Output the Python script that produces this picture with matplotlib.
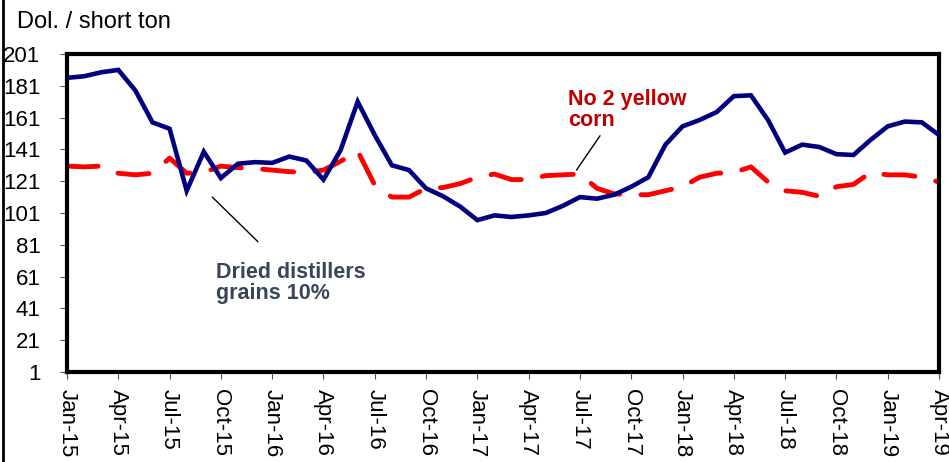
import matplotlib
matplotlib.use("Agg")
import matplotlib.pyplot as plt
from matplotlib.lines import Line2D
import numpy as np

plt.rcParams['font.family'] = ['Liberation Sans', 'DejaVu Sans']

# monthly prices, Jan-15 .. Apr-19 (dollars per short ton)
months = ['Jan', 'Feb', 'Mar', 'Apr', 'May', 'Jun', 'Jul', 'Aug', 'Sep', 'Oct', 'Nov', 'Dec']
labels = [f"{m}-{y}" for y in range(15, 20) for m in months][:52]

ddgs = [186, 187, 189.5, 191, 178, 158, 154, 115, 139.5, 123, 132, 133,
        132.5, 136.5, 134, 122, 140.5, 171, 150, 131, 128, 116.5, 111.5, 105,
        96.5, 99.5, 98.5, 99.5, 101, 105.5, 111, 110, 112.5, 117.5, 123.5, 144,
        155.5, 159.5, 164.5, 174.5, 175, 159.5, 139, 144, 142.5, 138, 137.5, 147,
        155.5, 158.5, 158, 150]
corn = [130.5, 130, 130.5, 126, 125, 126, 135.5, 126, 126.5, 130.5, 129.5, 129,
        128, 127, 126.5, 128, 133.5, 140, 118.5, 111, 111, 116.5, 117, 119.5,
        123.5, 125.5, 122, 122, 124.5, 125, 125.5, 116.5, 113, 112.5, 112.5, 115,
        117.5, 123.5, 126, 126.5, 130, 120.5, 115, 114, 111.5, 117.5, 119, 126.5,
        125, 125, 123.5, 120.5]

x = np.arange(len(labels))

fig = plt.figure(figsize=(9.49, 4.62), dpi=100)
ax = fig.add_axes([67/949, 90/462, 872/949, 318/462])

ax.plot(x, ddgs, color='#000080', lw=3.3, solid_joinstyle='miter', zorder=3)
ax.plot(x, corn, color='#FF0000', lw=3.5, linestyle=(0, (6.4, 4.4)),
        dash_capstyle='round', zorder=2)

ax.set_xlim(0, len(labels) - 1)
ax.set_ylim(1, 201)
ax.set_yticks(np.arange(1, 202, 20))
ax.set_xticks(x[::3])
ax.set_xticklabels(labels[::3], rotation=-90, va='top', ha='center')
ax.tick_params(axis='both', direction='out', length=5, width=0.8, color='#555555')
ax.tick_params(axis='x', labelsize=16, pad=7)
ax.tick_params(axis='y', labelsize=16, pad=14)
for s in ax.spines.values():
    s.set_linewidth(3)
    s.set_color('black')

ax.annotate('Dried distillers\ngrains 10%', xy=(8.5, 111), xytext=(8.7, 57),
            color='#3B4559', fontsize=15.5, fontweight='bold', ha='left', va='center',
            multialignment='left', linespacing=1.0,
            arrowprops=dict(arrowstyle='-', color='black', lw=1, shrinkA=18, shrinkB=0,
                            relpos=(0.42, 1.0)))
ax.annotate('No 2 yellow\ncorn', xy=(29.8, 128), xytext=(29.3, 166),
            color='#C00000', fontsize=15.5, fontweight='bold', ha='left', va='center',
            multialignment='left', linespacing=1.0,
            arrowprops=dict(arrowstyle='-', color='black', lw=1, shrinkA=2, shrinkB=0,
                            relpos=(0.3, 0.0)))

fig.text(17/949, 1 - 22/462, 'Dol. / short ton', fontsize=17, ha='left', va='center')
fig.add_artist(Line2D([3/949, 3/949], [0, 1], color='black', lw=2, transform=fig.transFigure))

fig.savefig('out.png', dpi=100)
